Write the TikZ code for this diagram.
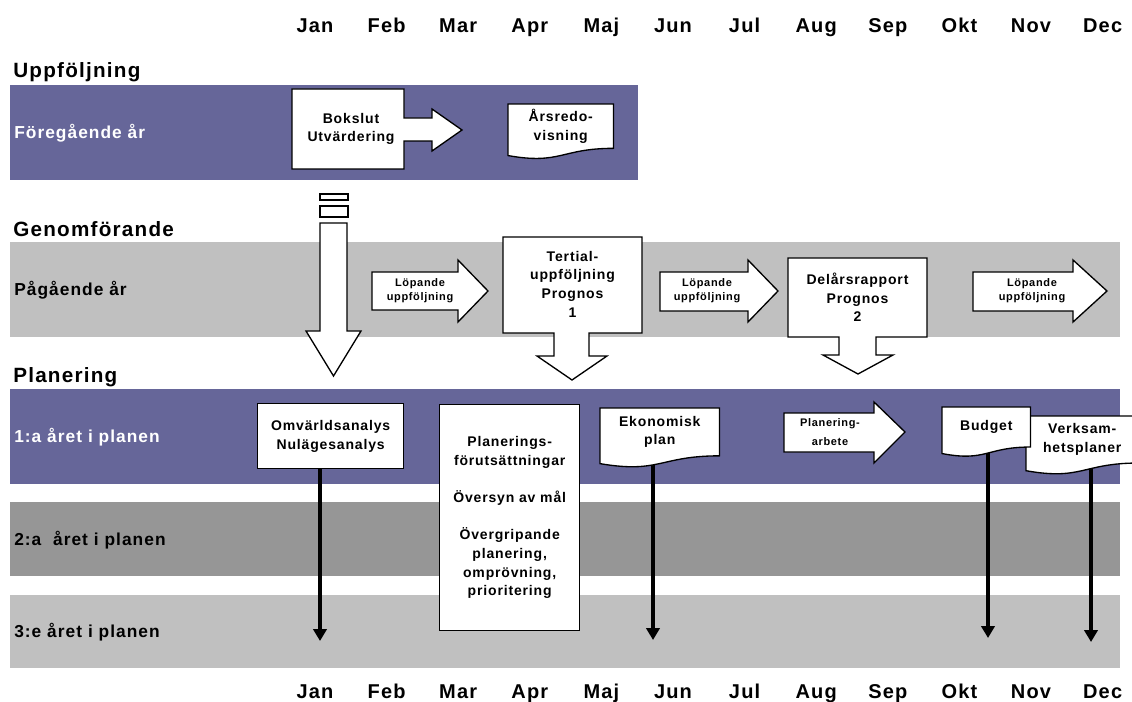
\documentclass[tikz,border=0pt]{standalone}
\usepackage{fontspec}
\setmainfont{Liberation Sans}[LetterSpace=6]
\usetikzlibrary{arrows.meta,calc}

\definecolor{lila}{RGB}{102,102,153}
\definecolor{ljusgra}{RGB}{192,192,192}
\definecolor{morkgra}{RGB}{150,150,150}

\pgfdeclarelayer{bakgrund}
\pgfdeclarelayer{linjer}
\pgfsetlayers{bakgrund,linjer,main}

\tikzset{
    rubrik/.style={anchor=west, inner sep=0pt, font=\bfseries\fontsize{15.5}{18}\selectfont},
    manad/.style={anchor=base, inner sep=0pt, font=\bfseries\fontsize{15}{18}\selectfont},
    bandtext/.style={anchor=west, inner sep=0pt, font=\bfseries\fontsize{13}{16}\selectfont},
    form/.style={fill=white, draw=black, line width=1pt},
    ruta/.style={form, anchor=north west, align=center, inner sep=0pt, font=\bfseries\fontsize{10.5}{14}\selectfont},
    rutatext/.style={align=center, inner sep=0pt, font=\bfseries\fontsize{10.5}{14}\selectfont},
    piltext/.style={align=center, inner sep=0pt, font=\bfseries\fontsize{8.25}{10.5}\selectfont},
    dok/.style={fill=white, anchor=north west, align=center, inner sep=0pt, font=\bfseries\fontsize{10.5}{14}\selectfont},
    kopp/.style={line width=2.6pt, -{Triangle[width=10pt,length=9pt]}},
}

% document shape: #1 node, #2 height of the flat part
\newcommand{\dokkant}[2]{%
    \fill[white] ($(#1.south west)+(0,-2)$) -- ($(#1.south east)+(0,-2)$) -- (#1.south east)
        .. controls (#1.south) and ($(#1.south)+(0,0.38*#2)$) .. ($(#1.south west)+(0,0.165*#2)$) -- cycle;
    \draw[line width=1pt] ($(#1.south west)+(0,0.165*#2)$) -- (#1.north west) -- (#1.north east) -- (#1.south east)
        .. controls (#1.south) and ($(#1.south)+(0,0.38*#2)$) .. ($(#1.south west)+(0,0.165*#2)$) -- cycle;
}

\begin{document}
\begin{tikzpicture}[x=0.75pt,y=0.75pt,yscale=-1,xscale=1]
    \useasboundingbox (0,0) rectangle (1132,702);
    \clip (0,0) rectangle (1132,702);
    %bands
    \begin{pgfonlayer}{bakgrund}
        \fill[lila] (10,85) rectangle (638,180);
        \fill[ljusgra] (10,242) rectangle (1120,337);
        \fill[lila] (10,389) rectangle (1120,484);
        \fill[morkgra] (10,502) rectangle (1120,576);
        \fill[ljusgra] (10,595) rectangle (1120,668);
    \end{pgfonlayer}
    %months
    \foreach \m [count=\i from 0] in {Jan,Feb,Mar,Apr,Maj,Jun,Jul,Aug,Sep,Okt,Nov,Dec} {
        \node[manad] (topp\i) at (315+71.6*\i, 33) {\m};
        \node[manad] (botten\i) at (315+71.6*\i, 698) {\m};
    }
    %headings
    \node[rubrik] (uppf) at (13,72) {Uppföljning};
    \node[rubrik] (genomf) at (13,229) {Genomförande};
    \node[rubrik] (plan) at (13,377) {Planering};
    \node[bandtext, text=white] (foreg) at (14,133) {Föregående år};
    \node[bandtext] (pag) at (14,290) {Pågående år};
    \node[bandtext, text=white] (ar1) at (14,437) {1:a året i planen};
    \node[bandtext] (ar2) at (14,540) {2:a\ \ året i planen};
    \node[bandtext] (ar3) at (14,632) {3:e året i planen};
    %
    %Uppfoljning
    \filldraw[form] (292,89) -- (404,89) -- (404,118) -- (432,118) -- (432,109) -- (462,130) -- (432,151)
        -- (432,141) -- (404,141) -- (404,169) -- (292,169) -- cycle;
    \node[rutatext] (bokslut) at (351,129) {Bokslut\\Utvärdering};
    \node[dok, minimum width=105*0.75pt, minimum height=43.8*0.75pt] (arsred) at (508,104) {Årsredo-\\visning};
    \dokkant{arsred}{43.8}
    %
    %big arrow down
    \filldraw[form] (320,194) rectangle (348,200);
    \filldraw[form] (320,206) rectangle (348,217);
    \filldraw[form] (320,223) -- (347,223) -- (347,331) -- (361,331) -- (333.5,376) -- (306,331) -- (320,331) -- cycle;
    %
    %Genomforande
    \filldraw[form] (372,272) -- (458,272) -- (458,260) -- (488,291) -- (458,322) -- (458,310) -- (372,310) -- cycle;
    \node[piltext] (lop1) at (420,291) {Löpande\\uppföljning};
    \filldraw[form] (503,237) -- (642,237) -- (642,333) -- (589,333) -- (589,356) -- (607,356) -- (572,380)
        -- (537,356) -- (554,356) -- (554,333) -- (503,333) -- cycle;
    \node[rutatext] (tertial) at (572.5,284) {Tertial-\\uppföljning\\Prognos\\1};
    \filldraw[form] (660,272) -- (748,272) -- (748,260) -- (778,291) -- (748,322) -- (748,311) -- (660,311) -- cycle;
    \node[piltext] (lop2) at (707,291) {Löpande\\uppföljning};
    \filldraw[form] (788,258) -- (927,258) -- (927,337) -- (876,337) -- (876,355) -- (893,355) -- (858,374)
        -- (823,355) -- (839,355) -- (839,337) -- (788,337) -- cycle;
    \node[rutatext] (delars) at (857.5,297.5) {Delårsrapport\\Prognos\\2};
    \filldraw[form] (973,272) -- (1073,272) -- (1073,260) -- (1107,291) -- (1073,322) -- (1073,311) -- (973,311) -- cycle;
    \node[piltext] (lop3) at (1032,291) {Löpande\\uppföljning};
    %
    %Planering
    \node[ruta, minimum width=146*0.75pt, minimum height=65*0.75pt] (omv) at (257,403) {Omvärldsanalys\\Nulägesanalys};
    \node[ruta, minimum width=140*0.75pt, minimum height=226*0.75pt] (forut) at (439,404)
        {Planerings-\\förutsättningar\\[14pt]Översyn av mål\\[14pt]Övergripande\\planering,\\omprövning,\\prioritering};
    \node[dok, minimum width=119*0.75pt, minimum height=47.3*0.75pt] (ekon) at (600,408) {Ekonomisk\\plan};
    \dokkant{ekon}{47.3}
    \filldraw[form] (784,413) -- (874,413) -- (874,402) -- (905,432) -- (874,463) -- (874,452) -- (784,452) -- cycle;
    \node[piltext, font=\bfseries\fontsize{8.25}{13.7}\selectfont] (planarb) at (830,432) {Planering-\\arbete};
    \node[dok, minimum width=112*0.75pt, minimum height=46.5*0.75pt] (verks) at (1026,416) {Verksam-\\hetsplaner};
    \dokkant{verks}{46.5}
    \node[dok, minimum width=88*0.75pt, minimum height=39.5*0.75pt] (budget) at (942,407) {Budget};
    \dokkant{budget}{39.5}
    %
    %arrows to year 3
    \coordinate (omvslut) at (320,641);
    \coordinate (ekonslut) at (653,640);
    \coordinate (budgetslut) at (988,638);
    \coordinate (verksslut) at (1091,642);
    \begin{pgfonlayer}{linjer}
        \draw[kopp] (omv.south -| omvslut) -- (omvslut);
        \draw[kopp] (ekon.center -| ekonslut) -- (ekonslut);
        \draw[kopp] (budget.center -| budgetslut) -- (budgetslut);
        \draw[kopp] (verks.center -| verksslut) -- (verksslut);
    \end{pgfonlayer}
\end{tikzpicture}
\end{document}
